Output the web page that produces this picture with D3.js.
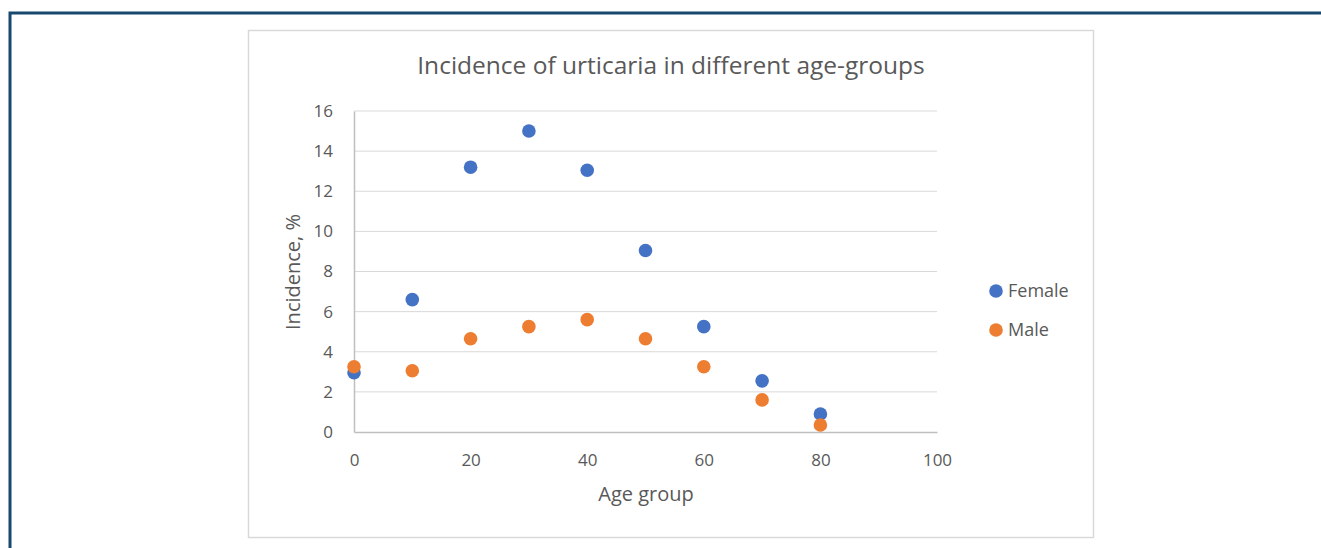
<!DOCTYPE html>
<html lang="en">
  <head>
    <meta charset="utf-8">
    <title>Incidence of urticaria</title>
    <script type="text/javascript" src="https://d3js.org/d3.v7.min.js"></script>
    <style type="text/css">
      body {
        margin: 0;
        background: #ffffff;
      }
      text {
        font-family: "Open Sans", "Noto Sans", sans-serif;
        fill: #595959;
      }
    </style>
  </head>
  <body>
    <div id="placeHere"></div>
    <script type="text/javascript">
      // data
      var ageGroups = [0, 10, 20, 30, 40, 50, 60, 70, 80];
      var female = [2.95, 6.6, 13.2, 15.0, 13.05, 9.05, 5.25, 2.55, 0.9];
      var male = [3.25, 3.05, 4.65, 5.25, 5.6, 4.65, 3.25, 1.6, 0.35];
      var xTicks = [0, 20, 40, 60, 80, 100];
      var yTicks = [0, 2, 4, 6, 8, 10, 12, 14, 16];
      var seriesNames = ["Female", "Male"];
      var seriesColors = ["#4472C4", "#ED7D31"];

      var w = 1321, h = 548;

      var svg = d3.select("#placeHere")
                  .append("svg")
                  .attr("width", w)
                  .attr("height", h);

      // outer frame (dark blue, left and top visible)
      svg.append("rect")
         .attr("x", 10).attr("y", 13)
         .attr("width", w + 20).attr("height", h + 20)
         .attr("fill", "none")
         .attr("stroke", "#17486e")
         .attr("stroke-width", 3);

      // chart area box
      svg.append("rect")
         .attr("x", 248.5).attr("y", 30.5)
         .attr("width", 845).attr("height", 507)
         .attr("fill", "#ffffff")
         .attr("stroke", "#d9d9d9")
         .attr("stroke-width", 1.5);

      var xScale = d3.scaleLinear().domain([0, 100]).range([354, 937]);
      var yScale = d3.scaleLinear().domain([0, 16]).range([432, 111]);

      // gridlines
      svg.append("g")
         .selectAll("line")
         .data(yTicks.filter(function(d){ return d > 0; }))
         .enter()
         .append("line")
         .attr("x1", xScale(0)).attr("x2", xScale(100))
         .attr("y1", function(d){ return yScale(d); })
         .attr("y2", function(d){ return yScale(d); })
         .attr("stroke", "#d9d9d9")
         .attr("stroke-width", 1);

      // x axis
      var xAxis = svg.append("g")
         .attr("transform", "translate(0," + yScale(0) + ")")
         .call(d3.axisBottom(xScale).tickValues(xTicks).tickSize(0).tickPadding(22));
      xAxis.select(".domain").attr("stroke", "#bfbfbf").attr("stroke-width", 1.5);
      xAxis.selectAll("text").attr("font-size", "17px").attr("fill", "#595959")
           .attr("font-family", "Open Sans, sans-serif");

      // y axis
      var yAxis = svg.append("g")
         .attr("transform", "translate(" + xScale(0) + ",0)")
         .call(d3.axisLeft(yScale).tickValues(yTicks).tickSize(0).tickPadding(21));
      yAxis.select(".domain").attr("stroke", "#bfbfbf").attr("stroke-width", 1.5);
      yAxis.selectAll("text").attr("font-size", "17px").attr("fill", "#595959")
           .attr("font-family", "Open Sans, sans-serif");

      // points
      var series = [female, male];
      series.forEach(function(vals, s) {
        svg.append("g")
           .selectAll("circle")
           .data(vals)
           .enter()
           .append("circle")
           .attr("cx", function(d, i){ return xScale(ageGroups[i]); })
           .attr("cy", function(d){ return yScale(d); })
           .attr("r", 6.8)
           .attr("fill", seriesColors[s]);
      });

      // title
      svg.append("text")
         .attr("x", 671).attr("y", 74)
         .attr("text-anchor", "middle")
         .attr("font-size", "24.5px")
         .text("Incidence of urticaria in different age-groups");

      // axis titles
      svg.append("text")
         .attr("x", 646).attr("y", 501)
         .attr("text-anchor", "middle")
         .attr("font-size", "20px")
         .text("Age group");

      svg.append("text")
         .attr("transform", "translate(300,272) rotate(-90)")
         .attr("text-anchor", "middle")
         .attr("font-size", "20px")
         .text("Incidence, %");

      // legend
      var legend = svg.append("g")
         .selectAll("g")
         .data(seriesNames)
         .enter()
         .append("g")
         .attr("transform", function(d, i){ return "translate(996," + (291 + i * 39) + ")"; });
      legend.append("circle")
         .attr("r", 6.8)
         .attr("fill", function(d, i){ return seriesColors[i]; });
      legend.append("text")
         .attr("x", 12).attr("y", 6)
         .attr("font-size", "18px")
         .text(function(d){ return d; });
    </script>
  </body>
</html>
